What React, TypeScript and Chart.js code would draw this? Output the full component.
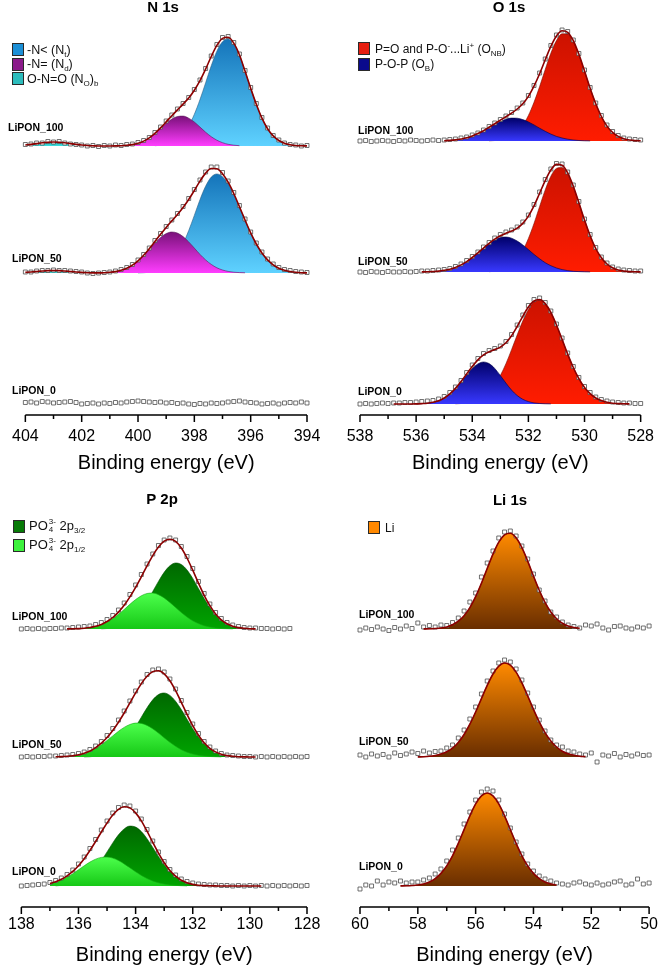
import { useEffect, useRef } from "react"
import { Chart, registerables } from "chart.js"

Chart.register(...registerables)

const FONT = "'Liberation Sans', Arial, Helvetica, sans-serif"

// ---------- N 1s ----------
const N_ENERGY = [404, 403.8, 403.6, 403.4, 403.2, 403, 402.8, 402.6, 402.4, 402.2, 402, 401.8, 401.6, 401.4, 401.2, 401, 400.8, 400.6, 400.4, 400.2, 400, 399.8, 399.6, 399.4, 399.2, 399, 398.8, 398.6, 398.4, 398.2, 398, 397.8, 397.6, 397.4, 397.2, 397, 396.8, 396.6, 396.4, 396.2, 396, 395.8, 395.6, 395.4, 395.2, 395, 394.8, 394.6, 394.4, 394.2, 394]
const N_FIT = [404, 394]
const N_LIPON100_DATA = [1.5, 2, 3, 3, 4.5, 4, 4.5, 3, 2, 1.5, 1, 0, 0.5, -0.5, 0.5, 0, 1, 0.5, 1.5, 2, 3.5, 5.5, 8.5, 13.5, 19, 25, 31, 37, 42.5, 48.5, 56.5, 66, 77.5, 90, 101.5, 108.5, 109.5, 103.5, 92, 75.5, 58.5, 42.5, 28.5, 18, 10.5, 6, 3, 1.5, 1, 0, 0.5]
const N_LIPON100_NT = [0, 0, 0, 0, 0, 0, 0, 0, 0, 0, 0, 0, 0, 0, 0, 0, 0, 0, 0, 0, 0, 0, 0, 0.3, 0.7, 1.6, 3.4, 6.6, 12, 20.1, 31.7, 46.4, 63.1, 80.2, 94.8, 104.3, 107, 102.1, 91, 74.9, 57.8, 41.7, 27.8, 17.3, 10.1, 5.5, 2.7, 1.3, 0.5, 0.2, 0.1]
const N_LIPON100_ND = [0, 0, 0, 0, 0, 0, 0, 0, 0, 0, 0, 0, 0, 0, 0, 0, 0.1, 0.3, 0.7, 1.4, 2.7, 4.9, 8.2, 12.4, 17.4, 22.5, 26.9, 29.5, 29.9, 27.8, 24, 18.9, 13.8, 9.3, 5.8, 3.3, 1.7, 0.8, 0.3, 0, 0, 0, 0, 0, 0, 0, 0, 0, 0, 0, 0]
const N_LIPON100_NO = [1, 1.6, 2.4, 3.2, 3.8, 4, 3.8, 3.2, 2.4, 1.6, 1, 0.5, 0.2, 0, 0, 0, 0, 0, 0, 0, 0, 0, 0, 0, 0, 0, 0, 0, 0, 0, 0, 0, 0, 0, 0, 0, 0, 0, 0, 0, 0, 0, 0, 0, 0, 0, 0, 0, 0, 0, 0]
const N_LIPON50_DATA = [1, 1, 2, 2.5, 2.5, 3, 2.5, 2.5, 2, 1.5, 1, 0, -0.5, 0, 0.5, 1, 2, 3.5, 5.5, 8.5, 13, 18.5, 25, 32.5, 39.5, 46.5, 53, 59.5, 66.5, 74.5, 83.5, 93, 101, 106, 106, 100.5, 92, 80.5, 67.5, 54, 41, 30, 21, 14, 9, 5.5, 3.5, 2.5, 1.5, 1, 0.5]
const N_LIPON50_NT = [0, 0, 0, 0, 0, 0, 0, 0, 0, 0, 0, 0, 0, 0, 0, 0, 0, 0, 0, 0, 0.1, 0.3, 0.7, 1.6, 3.2, 6.2, 11.1, 18.6, 29.1, 42.4, 57.6, 73.3, 86.8, 95.9, 99, 96.3, 89.2, 78.7, 66, 52.8, 40.1, 29, 20, 13.1, 8.2, 4.8, 2.8, 1.5, 0.7, 0.3, 0.1]
const N_LIPON50_ND = [0, 0, 0, 0, 0, 0, 0, 0, 0, 0, 0, 0, 0, 0.1, 0.3, 0.7, 1.4, 2.7, 4.7, 7.8, 12.1, 17.4, 23.6, 29.9, 35.5, 39.4, 41, 39.9, 36.4, 31.1, 24.9, 18.6, 13.1, 8.6, 5.2, 3, 1.6, 0.8, 0.4, 0.2, 0, 0, 0, 0, 0, 0, 0, 0, 0, 0, 0]
const N_LIPON50_NO = [0.6, 1, 1.5, 2, 2.4, 2.5, 2.4, 2, 1.5, 1, 0.6, 0.3, 0.1, 0, 0, 0, 0, 0, 0, 0, 0, 0, 0, 0, 0, 0, 0, 0, 0, 0, 0, 0, 0, 0, 0, 0, 0, 0, 0, 0, 0, 0, 0, 0, 0, 0, 0, 0, 0, 0, 0]
const N_LIPON0_DATA = [0.5, 1, 0, 1.5, 1, 0, 0.5, 1, 1.5, 0.5, -1, -0.5, 0, -1, 0, -0.5, 0.5, 0, 1, 1.5, 2, 1.5, 1, 0.5, 1, 0, 0.5, -0.5, 0, -1, -1.5, -0.5, -1, 0, -0.5, 0, 1, 1.5, 2, 1, 0.5, 0, -1, -0.5, 0, -1, 0, 0.5, 0, 1, 0]

// ---------- O 1s ----------
const O_ENERGY = [538, 537.8, 537.6, 537.4, 537.2, 537, 536.8, 536.6, 536.4, 536.2, 536, 535.8, 535.6, 535.4, 535.2, 535, 534.8, 534.6, 534.4, 534.2, 534, 533.8, 533.6, 533.4, 533.2, 533, 532.8, 532.6, 532.4, 532.2, 532, 531.8, 531.6, 531.4, 531.2, 531, 530.8, 530.6, 530.4, 530.2, 530, 529.8, 529.6, 529.4, 529.2, 529, 528.8, 528.6, 528.4, 528.2, 528]
const O_FIT_100 = [535, 528]
const O_FIT_50 = [535.8, 528]
const O_FIT_0 = [536.8, 528.4]
const O_LIPON100_DATA = [0, 0.5, -0.5, 0, 0.5, 0, -0.5, 0.5, 0, 1, 0.5, 0, 0.5, 1, 0.5, 1, 1.5, 2, 3, 4, 6, 8, 11, 14.5, 18, 21.5, 25, 28.5, 33, 38, 45.5, 55.5, 68, 82, 95.5, 106, 111, 109.5, 101, 87.5, 71, 53.5, 38, 25.5, 16, 9.5, 5.5, 3, 2, 1.5, 1]
const O_LIPON100_ONB = [0, 0, 0, 0, 0, 0, 0, 0, 0, 0, 0, 0, 0, 0, 0, 0, 0, 0, 0, 0, 0, 0, 0, 0.2, 0.5, 1.2, 2.5, 4.9, 9.2, 15.8, 25.5, 38.7, 54.4, 71.5, 87.7, 100.4, 107.2, 106.9, 99.4, 86.2, 69.8, 52.6, 37.2, 24.5, 14.9, 8.6, 4.6, 2.3, 1, 0.4, 0.2]
const O_LIPON100_OB = [0, 0, 0, 0, 0, 0, 0, 0, 0, 0, 0, 0, 0, 0, 0.2, 0.3, 0.6, 1.1, 2, 3.2, 5.1, 7.4, 10.3, 13.5, 16.7, 19.6, 21.8, 22.9, 22.8, 21.4, 19.1, 16.1, 12.8, 9.7, 6.9, 4.6, 3, 1.8, 1, 0.5, 0.2, 0.1, 0, 0, 0, 0, 0, 0, 0, 0, 0]
const O_LIPON50_DATA = [0, -0.5, 0.5, 0, -0.5, 0.5, 0, 0, 0.5, 0, 0.5, 1, 1, 1.5, 2, 2.5, 3.5, 5.5, 8, 11.5, 15.5, 20, 25, 29.5, 34, 37.5, 40, 42, 45, 50, 57, 67.5, 80, 92.5, 103, 108.5, 108, 100, 87, 70.5, 53, 37.5, 24.5, 15, 9, 5, 3, 2, 1.5, 1, 1]
const O_LIPON50_ONB = [0, 0, 0, 0, 0, 0, 0, 0, 0, 0, 0, 0, 0, 0, 0, 0, 0, 0, 0, 0, 0, 0, 0, 0.3, 0.8, 1.8, 3.7, 7.1, 12.8, 21.5, 33.5, 48.5, 65.5, 82.1, 95.7, 103.6, 104.4, 97.7, 85, 68.8, 51.8, 36.2, 23.5, 14.2, 8, 4.2, 2, 0.9, 0.4, 0.2, 0.1]
const O_LIPON50_OB = [0, 0, 0, 0, 0, 0, 0, 0, 0, 0, 0, 0.1, 0.2, 0.5, 0.9, 1.7, 2.8, 4.6, 7.1, 10.4, 14.5, 19.1, 23.9, 28.4, 32, 34.4, 35, 33.8, 31, 27.1, 22.4, 17.6, 13.2, 9.3, 6.3, 4, 2.4, 1.4, 0.7, 0.4, 0.2, 0.1, 0, 0, 0, 0, 0, 0, 0, 0, 0]
const O_LIPON0_DATA = [0, 0.5, 0, 0.5, 1, 0.5, 1, 1, 1.5, 1.5, 2, 2.5, 3, 3.5, 5, 7.5, 11.5, 17, 23.5, 31.5, 39, 45.5, 50.5, 53.5, 55.5, 58, 62.5, 69.5, 79, 89, 98.5, 104.5, 106, 101.5, 93, 80, 66, 51, 37.5, 26.5, 17.5, 11.5, 7, 4.5, 3, 2, 1.5, 1, 1, 0.5, 0.5]
const O_LIPON0_ONB = [0, 0, 0, 0, 0, 0, 0, 0, 0, 0, 0, 0, 0, 0, 0, 0, 0, 0.2, 0.5, 1.1, 2.1, 4, 7.1, 11.9, 18.8, 28.4, 40.3, 54.3, 69, 83, 94.6, 101.9, 104, 100.2, 91.5, 79, 64.6, 49.9, 36.5, 25.3, 16.5, 10.3, 6, 3.4, 1.7, 0.8, 0.4, 0.2, 0.1, 0, 0]
const O_LIPON0_OB = [0, 0, 0, 0, 0, 0, 0, 0, 0, 0, 0.1, 0.4, 0.8, 1.7, 3.3, 6, 10.1, 15.4, 21.9, 29, 35.4, 40.1, 42, 40.4, 35.6, 28.5, 20.9, 13.9, 8.5, 4.7, 2.4, 1.1, 0.5, 0.2, 0.1, 0, 0, 0, 0, 0, 0, 0, 0, 0, 0, 0, 0, 0, 0, 0, 0]

// ---------- P 2p ----------
const P_ENERGY = [138, 137.8, 137.6, 137.4, 137.2, 137, 136.8, 136.6, 136.4, 136.2, 136, 135.8, 135.6, 135.4, 135.2, 135, 134.8, 134.6, 134.4, 134.2, 134, 133.8, 133.6, 133.4, 133.2, 133, 132.8, 132.6, 132.4, 132.2, 132, 131.8, 131.6, 131.4, 131.2, 131, 130.8, 130.6, 130.4, 130.2, 130, 129.8, 129.6, 129.4, 129.2, 129, 128.8, 128.6, 128.4, 128.2, 128]
const P_FIT_100 = [136.4, 129.8]
const P_FIT_50 = [136.8, 129.8]
const P_FIT_0 = [137, 129.6]
const P_LIPON100_DATA = [0, 0.5, 0, 0.5, 0, 0.5, 0.5, 1, 1, 1.5, 2, 2.5, 3, 4.5, 6.5, 9.5, 13.5, 19, 26, 34.5, 44, 54.5, 65, 75, 83.5, 89, 91, 89, 82.5, 72.5, 60.5, 47.5, 35.5, 25, 16.5, 10.5, 6.5, 4, 2.5, 1.5, 1, 1, 0.5, 0.5, 0, 0.5, 0, 0.5, null, null, null]
const P_LIPON100_P32 = [0, 0, 0, 0, 0, 0, 0, 0, 0, 0, 0, 0, 0, 0, 0.2, 0.5, 1.1, 2.2, 4.2, 7.4, 12.3, 19, 27.6, 37.5, 47.6, 56.7, 63.2, 66, 64.5, 59, 50.6, 40.5, 30.4, 21.4, 14.1, 8.7, 5, 2.7, 1.4, 0.7, 0.3, 0.1, 0, 0, 0, 0, 0, 0, 0, 0, 0]
const P_LIPON100_P12 = [0, 0, 0, 0, 0, 0, 0, 0, 0.1, 0.2, 0.4, 0.8, 1.5, 2.7, 4.4, 7, 10.4, 14.7, 19.5, 24.7, 29.4, 33.2, 35.5, 35.9, 34.3, 31.1, 26.6, 21.6, 16.5, 12, 8.2, 5.4, 3.3, 1.9, 1, 0.5, 0.3, 0.1, 0, 0, 0, 0, 0, 0, 0, 0, 0, 0, 0, 0, 0]
const P_LIPON50_DATA = [0, 0.5, 0, 0.5, 0.5, 1, 1, 1.5, 2, 2.5, 3.5, 5, 7.5, 11, 15.5, 21.5, 28.5, 37, 46, 56, 66, 75, 82.5, 87, 88, 85, 78, 68, 56.5, 44.5, 33, 23.5, 15.5, 10, 6, 3.5, 2, 1.5, 1, 0.5, 0.5, 0, 0.5, 0, 0.5, 0, 0.5, 0, 0.5, 0, 0.5]
const P_LIPON50_P32 = [0, 0, 0, 0, 0, 0, 0, 0, 0, 0, 0, 0.1, 0.3, 0.8, 1.6, 3, 5.4, 9.1, 14.4, 21.6, 30.2, 39.8, 49.2, 57.2, 62.4, 64, 61.6, 55.7, 47.4, 37.8, 28.3, 20, 13.3, 8.2, 4.8, 2.6, 1.4, 0.7, 0.3, 0.1, 0, 0, 0, 0, 0, 0, 0, 0, 0, 0, 0]
const P_LIPON50_P12 = [0, 0, 0, 0, 0, 0, 0.2, 0.4, 0.7, 1.3, 2.2, 3.7, 5.7, 8.6, 12.2, 16.5, 21.1, 25.7, 29.6, 32.5, 33.9, 33.6, 31.6, 28.2, 23.9, 19.2, 14.7, 10.7, 7.3, 4.8, 3, 1.8, 1, 0.5, 0.3, 0.1, 0, 0, 0, 0, 0, 0, 0, 0, 0, 0, 0, 0, 0, 0, 0]
const P_LIPON0_DATA = [0, 0.5, 1, 1.5, 2, 3.5, 5.5, 8, 11.5, 16, 22, 29, 37.5, 46.5, 56, 65, 73, 78.5, 81, 80, 75, 67, 56.5, 45, 34, 24.5, 16.5, 11, 7, 4.5, 3, 2, 1.5, 1, 1, 0.5, 0.5, 0, 0.5, 0, 0.5, 0, 0.5, 0, 0.5, 0, 0.5, 0, 0.5, 0, 0.5]
const P_LIPON0_P32 = [0, 0, 0, 0, 0, 0, 0.2, 0.6, 1.2, 2.3, 4.1, 7.1, 11.6, 17.7, 25.4, 34.1, 43.1, 51.2, 57.1, 59.9, 58.9, 54.5, 47.3, 38.6, 29.6, 21.3, 14.4, 9.2, 5.5, 3.1, 1.6, 0.8, 0.4, 0.2, 0.1, 0, 0, 0, 0, 0, 0, 0, 0, 0, 0, 0, 0, 0, 0, 0, 0]
const P_LIPON0_P12 = [0, 0, 0.4, 0.8, 1.5, 2.5, 4, 6.1, 9, 12.3, 16.2, 20.2, 23.9, 26.8, 28.6, 28.9, 27.9, 25.5, 22.1, 18.2, 14.2, 10.6, 7.5, 5, 3.2, 1.9, 1.1, 0.6, 0.3, 0.1, 0, 0, 0, 0, 0, 0, 0, 0, 0, 0, 0, 0, 0, 0, 0, 0, 0, 0, 0, 0, 0]

// ---------- Li 1s ----------
const LI_ENERGY = [60, 59.8, 59.6, 59.4, 59.2, 59, 58.8, 58.6, 58.4, 58.2, 58, 57.8, 57.6, 57.4, 57.2, 57, 56.8, 56.6, 56.4, 56.2, 56, 55.8, 55.6, 55.4, 55.2, 55, 54.8, 54.6, 54.4, 54.2, 54, 53.8, 53.6, 53.4, 53.2, 53, 52.8, 52.6, 52.4, 52.2, 52, 51.8, 51.6, 51.4, 51.2, 51, 50.8, 50.6, 50.4, 50.2, 50]
const LI_FIT_100 = [57.8, 52.4]
const LI_FIT_50 = [58, 52.2]
const LI_FIT_0 = [58.6, 53.2]
const LI_LIPON100_DATA = [-1, 1, -0.5, 2, 0, -1.5, 1.5, 0, 3, 0.5, 6, 2, 3.5, 2, 4, 3.5, 6.5, 11, 18, 27, 36, 52, 66, 78, 91, 97, 98, 93, 83, 70, 55, 39, 28, 17, 12, 7, 4, 2.5, 1, 4, 3, 5, 1, -1, 2.5, 3, 1, 0, 2, 1, 3]
const LI_LIPON100_LI = [0, 0, 0, 0, 0, 0, 0, 0, 0, 0, 0, 0.1, 0.2, 0.5, 1, 2.1, 4.2, 7.8, 13.3, 21.4, 32.4, 45.7, 60.5, 74.9, 86.8, 94.2, 95.8, 91.2, 81.3, 67.9, 53, 38.8, 26.6, 17, 10.3, 5.8, 3, 1.5, 0.7, 0, 0, 0, 0, 0, 0, 0, 0, 0, 0, 0, 0]
const LI_LIPON50_DATA = [2, 0, 3, 1, 2.5, 0, 4, 1.5, 3, 5, 3.5, 6, 4, 5.5, 6, 9, 12, 19, 27, 38, 50, 63, 76, 86, 94, 97, 95, 88, 77, 64, 50, 37, 26, 17, 12, 10, 6, 5, 3, 2, 4, -5, 2, 1, 3.5, 0, 2.5, 1, 3, 1.5, 2]
const LI_LIPON50_LI = [0, 0, 0, 0, 0, 0, 0, 0, 0, 0, 0.1, 0.3, 0.7, 1.5, 2.9, 5.3, 8.9, 14.6, 22.5, 32.8, 45, 58.4, 71.6, 83, 90.8, 94, 91.8, 84.9, 74.1, 61.1, 47.6, 35.1, 24.4, 16.1, 10, 5.8, 3.2, 1.7, 0.8, 0.4, 0, 0, 0, 0, 0, 0, 0, 0, 0, 0, 0]
const LI_LIPON0_DATA = [-3, 1, 0, 5, 1, 4, 3, 5, 3, 4, 4, 6, 8, 12, 17, 25, 36, 48, 62, 74, 86, 94, 97, 95, 86, 72, 58, 44, 32, 22, 15, 10, 7, 5, 3, 2, 1, 3, 4, 2, 1, 3, 1, 2, 4, 5, 1, 2, 7, 2, 3]
const LI_LIPON0_LI = [0, 0, 0, 0, 0, 0, 0, 0.1, 0.2, 0.5, 1, 2.1, 4.1, 7.4, 12.6, 20.1, 30.2, 42.6, 56.4, 70.2, 82.1, 90.1, 93, 90.1, 82.1, 70.2, 56.4, 42.6, 30.2, 20.1, 12.6, 7.4, 4.1, 2.1, 1, 0, 0, 0, 0, 0, 0, 0, 0, 0, 0, 0, 0, 0, 0, 0, 0]

// ---------- look ----------
type Fill = { top: string; bottom: string; line: string }
const NT: Fill = { top: "#1474ba", bottom: "#5fd2ff", line: "#2a5f86" }
const ND: Fill = { top: "#7a107a", bottom: "#ff3dff", line: "#5a1a5a" }
const NO: Fill = { top: "#1eb0b0", bottom: "#3ce2e2", line: "#1a8080" }
const ONB: Fill = { top: "#cc1200", bottom: "#ff1c00", line: "#7a0a00" }
const OB: Fill = { top: "#00006a", bottom: "#3838ff", line: "#00004a" }
const P32: Fill = { top: "#006800", bottom: "#00a400", line: "#005000" }
const P12: Fill = { top: "#4cff4c", bottom: "#16c816", line: "#12a812" }
const LI: Fill = { top: "#ff8a00", bottom: "#6a2e00", line: "#8b2a00" }

type Peak = { values: number[]; fill: Fill }
type Spectrum = {
  name: string
  offset: number
  labelX: number
  labelDy: number
  data: (number | null)[]
  fit: number[] | null
  peaks: Peak[] // back to front
}
type Panel = {
  id: string
  title: string
  titleX: number
  titleY: number
  left: number
  top: number
  energy: number[]
  min: number
  max: number
  padLeft: number
  padRight: number
  padTop: number
  axisHeight: number
  tickPad: number
  titlePad: number
  spectra: Spectrum[]
}

const PANELS: Panel[] = [
  {
    id: "n1s", title: "N 1s", titleX: 163, titleY: 8, left: 0, top: 0,
    energy: N_ENERGY, min: 394, max: 404,
    padLeft: 14, padRight: 26, padTop: 15, axisHeight: 69, tickPad: 12, titlePad: 9,
    spectra: [
      { name: "LiPON_100", offset: 269, labelX: 8, labelDy: 18, data: N_LIPON100_DATA, fit: N_FIT,
        peaks: [{ values: N_LIPON100_NT, fill: NT }, { values: N_LIPON100_ND, fill: ND }, { values: N_LIPON100_NO, fill: NO }] },
      { name: "LiPON_50", offset: 142, labelX: 12, labelDy: 14, data: N_LIPON50_DATA, fit: N_FIT,
        peaks: [{ values: N_LIPON50_NT, fill: NT }, { values: N_LIPON50_ND, fill: ND }, { values: N_LIPON50_NO, fill: NO }] },
      { name: "LiPON_0", offset: 12, labelX: 12, labelDy: 12, data: N_LIPON0_DATA, fit: null, peaks: [] },
    ],
  },
  {
    id: "o1s", title: "O 1s", titleX: 176, titleY: 8, left: 333, top: 0,
    energy: O_ENERGY, min: 528, max: 538,
    padLeft: 27, padRight: 14, padTop: 15, axisHeight: 69, tickPad: 12, titlePad: 9,
    spectra: [
      { name: "LiPON_100", offset: 274, labelX: 25, labelDy: 10, data: O_LIPON100_DATA, fit: O_FIT_100,
        peaks: [{ values: O_LIPON100_ONB, fill: ONB }, { values: O_LIPON100_OB, fill: OB }] },
      { name: "LiPON_50", offset: 143, labelX: 25, labelDy: 10, data: O_LIPON50_DATA, fit: O_FIT_50,
        peaks: [{ values: O_LIPON50_ONB, fill: ONB }, { values: O_LIPON50_OB, fill: OB }] },
      { name: "LiPON_0", offset: 11, labelX: 25, labelDy: 12, data: O_LIPON0_DATA, fit: O_FIT_0,
        peaks: [{ values: O_LIPON0_ONB, fill: ONB }, { values: O_LIPON0_OB, fill: OB }] },
    ],
  },
  {
    id: "p2p", title: "P 2p", titleX: 162, titleY: 16, left: 0, top: 484,
    energy: P_ENERGY, min: 128, max: 138,
    padLeft: 14, padRight: 26, padTop: 23, axisHeight: 61, tickPad: 8, titlePad: 1,
    spectra: [
      { name: "LiPON_100", offset: 278, labelX: 12, labelDy: 12, data: P_LIPON100_DATA, fit: P_FIT_100,
        peaks: [{ values: P_LIPON100_P32, fill: P32 }, { values: P_LIPON100_P12, fill: P12 }] },
      { name: "LiPON_50", offset: 150, labelX: 12, labelDy: 12, data: P_LIPON50_DATA, fit: P_FIT_50,
        peaks: [{ values: P_LIPON50_P32, fill: P32 }, { values: P_LIPON50_P12, fill: P12 }] },
      { name: "LiPON_0", offset: 21, labelX: 12, labelDy: 14, data: P_LIPON0_DATA, fit: P_FIT_0,
        peaks: [{ values: P_LIPON0_P32, fill: P32 }, { values: P_LIPON0_P12, fill: P12 }] },
    ],
  },
  {
    id: "li1s", title: "Li 1s", titleX: 177, titleY: 17, left: 333, top: 484,
    energy: LI_ENERGY, min: 50, max: 60,
    padLeft: 27, padRight: 14, padTop: 23, axisHeight: 61, tickPad: 8, titlePad: 1,
    spectra: [
      { name: "LiPON_100", offset: 278, labelX: 26, labelDy: 14, data: LI_LIPON100_DATA, fit: LI_FIT_100,
        peaks: [{ values: LI_LIPON100_LI, fill: LI }] },
      { name: "LiPON_50", offset: 150, labelX: 26, labelDy: 15, data: LI_LIPON50_DATA, fit: LI_FIT_50,
        peaks: [{ values: LI_LIPON50_LI, fill: LI }] },
      { name: "LiPON_0", offset: 21, labelX: 26, labelDy: 19, data: LI_LIPON0_DATA, fit: LI_FIT_0,
        peaks: [{ values: LI_LIPON0_LI, fill: LI }] },
    ],
  },
]

const gradientFor = (fill: Fill, hi: number, lo: number) => (ctx: any) => {
  const chart = ctx.chart
  if (!chart.chartArea) return fill.bottom
  const y = chart.scales.y
  const g = chart.ctx.createLinearGradient(0, y.getPixelForValue(hi), 0, y.getPixelForValue(lo))
  g.addColorStop(0, fill.top)
  g.addColorStop(1, fill.bottom)
  return g
}

function SpectrumPanel({ panel }: { panel: Panel }) {
  const canvasRef = useRef<HTMLCanvasElement>(null)
  const chartRef = useRef<Chart | null>(null)

  useEffect(() => {
    if (!canvasRef.current) return
    if (chartRef.current) chartRef.current.destroy()

    const E = panel.energy
    const datasets: any[] = []

    panel.spectra.forEach((s) => {
      const inFit = (e: number) => s.fit !== null && e <= s.fit[0] + 1e-6 && e >= s.fit[1] - 1e-6

      // fitted components, larger ones behind
      s.peaks.forEach((p, k) => {
        const used = p.values.map((v, i) => (v > 0 && inFit(E[i]) ? i : -1)).filter((i) => i >= 0)
        const first = used[0]
        const last = used[used.length - 1]
        const hi = Math.max(...p.values) + s.offset
        datasets.push({
          type: "line",
          data: E.map((e, i) => ({ x: e, y: i >= first && i <= last ? p.values[i] + s.offset : null })),
          borderColor: p.fill.line,
          borderWidth: 0.6,
          backgroundColor: gradientFor(p.fill, hi, s.offset),
          fill: { value: s.offset },
          pointRadius: 0,
          cubicInterpolationMode: "monotone",
          clip: false,
          order: 10 + s.peaks.length - k,
        })
      })

      // measured points
      datasets.push({
        type: "line",
        data: E.map((e, i) => ({ x: e, y: s.data[i] === null ? null : (s.data[i] as number) + s.offset })),
        showLine: false,
        pointStyle: "rect",
        pointRadius: 2.8,
        pointBorderWidth: 0.8,
        pointBorderColor: "#4d4d4d",
        pointBackgroundColor: "#ffffff",
        clip: false,
        order: 2,
      })

      // envelope
      if (s.fit && s.peaks.length) {
        datasets.push({
          type: "line",
          data: E.map((e, i) => ({
            x: e,
            y: inFit(e) ? s.peaks.reduce((sum, p) => sum + p.values[i], 0) + s.offset : null,
          })),
          borderColor: "#8b0000",
          borderWidth: 1.6,
          pointRadius: 0,
          fill: false,
          cubicInterpolationMode: "monotone",
          clip: false,
          order: 1,
        })
      }
    })

    const decor = {
      id: "decor",
      afterDraw(chart: any) {
        const { ctx, chartArea } = chart
        const x = chart.scales.x
        const y = chart.scales.y
        ctx.save()
        ctx.strokeStyle = "#000"
        ctx.lineWidth = 1.5
        ctx.beginPath()
        ctx.moveTo(chartArea.left, chartArea.bottom)
        ctx.lineTo(chartArea.right, chartArea.bottom)
        for (let v = panel.min; v <= panel.max; v++) {
          const px = x.getPixelForValue(v)
          ctx.moveTo(px, chartArea.bottom)
          ctx.lineTo(px, chartArea.bottom + (v % 2 === 0 ? 7 : 4))
        }
        ctx.stroke()

        ctx.fillStyle = "#000"
        ctx.textAlign = "center"
        ctx.textBaseline = "middle"
        ctx.font = `bold 15px ${FONT}`
        ctx.fillText(panel.title, panel.titleX, panel.titleY)

        ctx.textAlign = "left"
        ctx.font = `bold 10.5px ${FONT}`
        panel.spectra.forEach((s) => {
          ctx.fillText(s.name, s.labelX, y.getPixelForValue(s.offset) - s.labelDy)
        })
        ctx.restore()
      },
    }

    chartRef.current = new Chart(canvasRef.current, {
      type: "line",
      data: { datasets },
      options: {
        animation: false,
        responsive: false,
        events: [],
        layout: { padding: { left: panel.padLeft, right: panel.padRight, top: panel.padTop, bottom: 0 } },
        plugins: { legend: { display: false }, tooltip: { enabled: false } },
        scales: {
          x: {
            type: "linear",
            min: panel.min,
            max: panel.max,
            reverse: true,
            afterFit: (scale: any) => {
              scale.height = panel.axisHeight
            },
            grid: { display: false, drawTicks: false },
            border: { display: false },
            ticks: {
              stepSize: 1,
              autoSkip: false,
              maxRotation: 0,
              padding: panel.tickPad,
              color: "#000",
              font: { size: 16, family: FONT },
              callback: (v: any) => (Number(v) % 2 === 0 ? String(v) : ""),
            },
            title: {
              display: true,
              text: "Binding energy (eV)",
              color: "#000",
              font: { size: 20, family: FONT },
              padding: { top: 0, bottom: panel.titlePad },
            },
          },
          y: { display: false, min: 0, max: 400 },
        },
      } as any,
      plugins: [decor],
    })

    return () => {
      if (chartRef.current) {
        chartRef.current.destroy()
        chartRef.current = null
      }
    }
  }, [panel])

  return (
    <div style={{ position: "absolute", left: panel.left, top: panel.top, width: 333, height: 484 }}>
      <canvas ref={canvasRef} width={333} height={484} style={{ display: "block" }} />
    </div>
  )
}

const sub = { fontSize: 8, verticalAlign: "-3px", lineHeight: 0 }
const sup = { fontSize: 8, verticalAlign: "5px", lineHeight: 0 }

function Key({ x, y, color, gap, size = 12, children }: { x: number; y: number; color: string; gap: number; size?: number; children: any }) {
  return (
    <div
      style={{
        position: "absolute",
        left: x,
        top: y,
        height: 13,
        display: "flex",
        alignItems: "center",
        fontSize: size,
        whiteSpace: "nowrap",
        color: "#111",
      }}
    >
      <span style={{ width: 10, height: 11, border: "1px solid #2a2a2a", background: color, marginRight: gap, flex: "none" }} />
      <span>{children}</span>
    </div>
  )
}

function Phosphate() {
  return (
    <>
      PO
      <span style={{ display: "inline-flex", flexDirection: "column", fontSize: 8, lineHeight: "8px", verticalAlign: "middle", marginLeft: 1 }}>
        <span>3-</span>
        <span>4</span>
      </span>
    </>
  )
}

export default function App() {
  return (
    <div
      style={{
        position: "absolute",
        left: 0,
        top: 0,
        width: 666,
        height: 968,
        background: "#fff",
        fontFamily: FONT,
        overflow: "hidden",
      }}
    >
      {PANELS.map((p) => (
        <SpectrumPanel key={p.id} panel={p} />
      ))}

      <Key x={12} y={43} color="#1b8fd6" gap={3} size={12.5}>
        -N&lt; (N<span style={sub}>t</span>)
      </Key>
      <Key x={12} y={57.5} color="#8a1a8a" gap={3} size={12.5}>
        -N= (N<span style={sub}>d</span>)
      </Key>
      <Key x={12} y={72} color="#2cbcbc" gap={3} size={12.5}>
        O-N=O (N<span style={sub}>O</span>)<span style={sub}>b</span>
      </Key>

      <Key x={358} y={42} color="#e61e10" gap={5}>
        P=O and P-O<span style={sup}>-</span>...Li<span style={sup}>+</span> (O<span style={sub}>NB</span>)
      </Key>
      <Key x={358} y={57.5} color="#0a0a8c" gap={5}>
        P-O-P (O<span style={sub}>B</span>)
      </Key>

      <Key x={13} y={519.5} color="#077a07" gap={4} size={13}>
        <Phosphate /> 2p<span style={sub}>3/2</span>
      </Key>
      <Key x={13} y={538.5} color="#3df23d" gap={4} size={13}>
        <Phosphate /> 2p<span style={sub}>1/2</span>
      </Key>

      <Key x={368} y={521} color="#ff8800" gap={5}>
        Li
      </Key>
    </div>
  )
}
